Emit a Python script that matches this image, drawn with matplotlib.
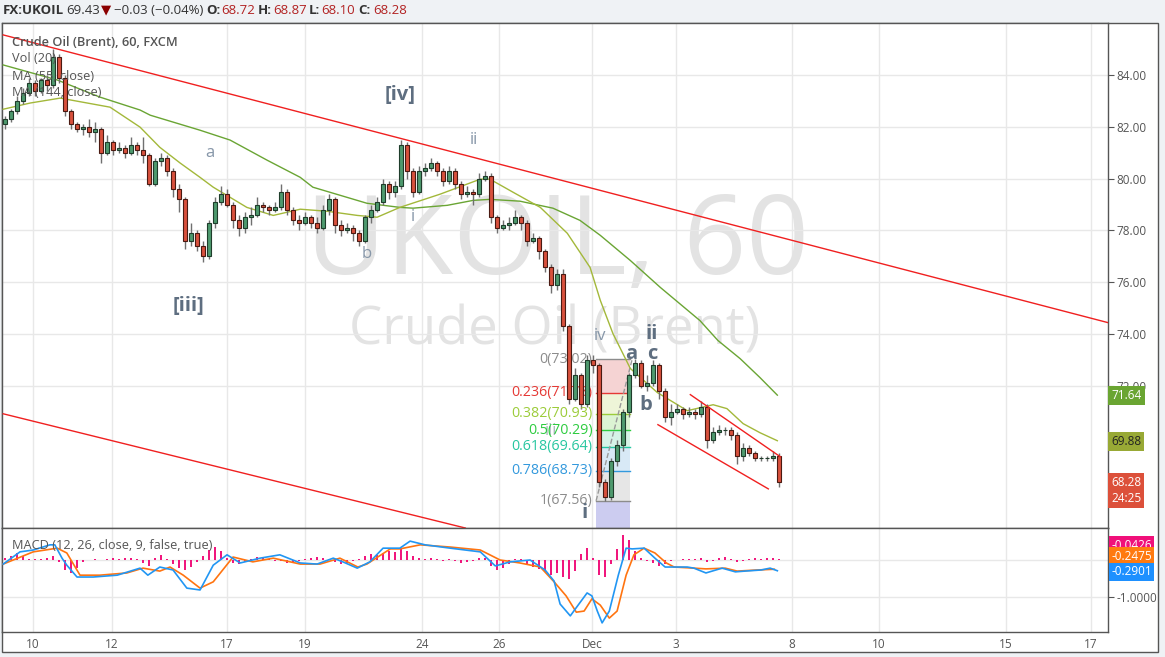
import numpy as np
import matplotlib
matplotlib.use('Agg')
import matplotlib.pyplot as plt
from matplotlib.patches import Rectangle
from matplotlib.transforms import blended_transform_factory

plt.rcParams['font.family'] = ['Open Sans', 'DejaVu Sans']

# ---- data (hourly UKOIL, one candle per ~2 bars) ----
first_open = 82.1
closes = [82.3, 82.6, 83.0, 83.3, 83.7, 83.4, 83.8, 83.6, 84.7, 83.9,
          82.6, 82.1, 81.9, 82.0, 81.8, 81.9, 81.0, 81.4, 81.1, 81.2,
          81.0, 81.3, 81.1, 80.9, 79.8, 80.7, 80.8, 80.3, 79.6, 79.2,
          77.6, 77.9, 77.4, 77.0, 78.3, 79.1, 79.4, 79.0, 78.4, 78.1,
          78.5, 78.6, 79.0, 78.9, 78.8, 78.9, 79.5, 78.8, 78.4, 78.3,
          78.5, 78.3, 78.1, 78.8, 79.2, 78.2, 78.0, 78.1, 77.9, 77.6,
          78.5, 78.8, 79.1, 79.8, 79.5, 79.7, 81.3, 80.3, 79.5, 80.3,
          80.4, 80.6, 80.3, 79.9, 80.3, 79.8, 79.4, 79.5, 79.4, 80.0,
          80.1, 78.5, 78.1, 78.2, 78.3, 78.5, 78.3, 77.6, 77.7, 77.2,
          76.6, 75.9, 76.3, 74.3, 71.5, 72.4, 71.3, 73.0, 72.8, 68.3,
          67.7, 69.1, 69.7, 71.0, 72.4, 72.9, 72.0, 72.1, 72.8, 71.8,
          70.8, 71.0, 71.1, 70.9, 71.0, 70.9, 71.2, 69.9, 70.2, 70.3,
          70.3, 70.1, 69.3, 69.6, 69.4, 69.2, 69.2, 69.2, 69.3, 68.28]
highs = [82.4, 82.7, 83.2, 83.5, 83.9, 83.8, 83.9, 84.0, 85.0, 84.8,
         84.0, 82.7, 82.2, 82.1, 82.3, 82.2, 82.0, 81.7, 81.5, 81.4,
         81.3, 81.6, 81.4, 81.6, 81.0, 80.8, 81.0, 80.9, 80.4, 79.8,
         79.3, 78.3, 78.0, 77.6, 78.4, 79.3, 79.7, 79.6, 79.1, 78.6,
         78.7, 78.9, 79.3, 79.1, 79.0, 79.1, 79.8, 79.6, 78.9, 78.6,
         78.7, 78.6, 78.5, 79.0, 79.4, 79.3, 78.4, 78.3, 78.2, 78.0,
         78.6, 79.0, 79.3, 80.0, 79.9, 79.9, 81.5, 81.4, 80.4, 80.5,
         80.6, 80.8, 80.7, 80.4, 80.5, 80.4, 79.9, 79.7, 79.6, 80.2,
         80.3, 80.2, 78.6, 78.4, 78.5, 78.8, 78.6, 78.4, 77.9, 77.8,
         77.3, 76.7, 76.5, 76.5, 74.4, 72.7, 72.5, 73.2, 73.2, 72.9,
         68.4, 69.2, 69.9, 71.1, 72.5, 73.02, 73.0, 72.4, 73.0, 72.9,
         71.9, 71.3, 71.3, 71.2, 71.2, 71.1, 71.4, 71.3, 70.4, 70.5,
         70.4, 70.4, 70.2, 69.8, 69.7, 69.5, 69.3, 69.3, 69.5, 69.4]
lows = [81.9, 82.2, 82.5, 82.9, 83.2, 83.2, 83.3, 83.4, 83.5, 83.7,
        82.4, 81.9, 81.8, 81.7, 81.6, 81.4, 80.6, 80.9, 80.9, 81.0,
        80.8, 80.9, 80.9, 80.6, 79.7, 79.7, 80.5, 80.1, 79.3, 78.7,
        77.3, 77.4, 77.2, 76.8, 76.9, 78.1, 79.0, 78.9, 78.1, 77.8,
        77.9, 78.2, 78.5, 78.7, 78.6, 78.7, 78.8, 78.6, 78.2, 78.0,
        78.2, 78.1, 77.9, 78.0, 78.6, 77.9, 77.8, 77.9, 77.6, 77.4,
        77.5, 78.3, 78.7, 79.0, 79.2, 79.3, 79.6, 80.0, 79.3, 79.4,
        80.1, 80.3, 80.1, 79.7, 79.8, 79.6, 79.2, 79.3, 79.0, 79.3,
        79.9, 78.3, 77.9, 78.0, 78.0, 78.2, 78.0, 77.4, 77.5, 76.9,
        76.4, 75.6, 75.7, 74.1, 71.3, 71.4, 71.1, 71.2, 72.5, 68.1,
        67.56, 67.6, 68.9, 69.5, 70.8, 72.3, 71.9, 71.8, 72.0, 71.5,
        70.6, 70.5, 70.9, 70.7, 70.8, 70.7, 70.8, 69.6, 69.8, 70.1,
        70.1, 69.9, 69.0, 69.1, 69.3, 69.1, 69.1, 69.1, 69.1, 68.1]

# moving averages (bar position, price)
ma55_bar = [-0.3, 4.2, 9.2, 17.5, 22.5, 25.8, 29.2, 32.5, 34.7, 40.3, 44.7, 49.2,
            53.7, 58.7, 62.0, 65.8, 72.5, 79.2, 80.8, 84.7, 89.2, 93.7, 97.5,
            99.2, 101.3, 104.2, 108.7, 113.7, 118.0, 120.3, 123.0, 125.8, 128.7]
ma55_val = [82.68, 82.92, 83.11, 82.76, 81.99, 81.21, 80.60, 80.05, 79.67, 78.89,
            78.58, 78.82, 78.74, 78.58, 78.51, 78.89, 79.40, 79.98, 79.98, 79.47,
            78.89, 77.89, 76.57, 75.30, 74.02, 72.67, 71.74, 71.04, 71.27, 71.12,
            70.54, 70.19, 69.88]
ma144_bar = [-0.3, 8.7, 15.8, 22.5, 24.2, 32.5, 37.5, 43.7, 49.2, 51.3, 55.8, 60.3,
             65.8, 68.0, 73.7, 78.0, 80.8, 85.8, 91.3, 95.8, 99.2, 104.2, 109.2,
             115.8, 118.8, 122.5, 125.8, 128.7]
ma144_val = [84.39, 83.81, 83.15, 82.65, 82.45, 81.87, 81.49, 80.71, 80.05, 79.67,
             79.36, 79.05, 78.89, 78.86, 78.97, 79.16, 79.20, 79.13, 78.86, 78.39,
             77.81, 76.84, 75.80, 74.52, 73.75, 73.05, 72.32, 71.64]

# MACD (12, 26, 9)
macd_bar = [-0.3, 2.5, 4.7, 7.5, 8.3, 9.5, 10.3, 12.0, 14.7, 18.7, 22.5, 23.8, 25.8,
            28.0, 30.3, 32.5, 34.7, 37.0, 39.2, 42.5, 45.8, 49.2, 52.0, 54.7, 56.3,
            58.7, 60.8, 63.0, 65.8, 67.5, 70.0, 74.2, 79.2, 81.7, 84.2, 87.5, 90.0,
            91.5, 92.5, 94.2, 95.5, 97.0, 97.8, 98.7, 99.5, 100.7, 102.2, 103.5,
            104.5, 106.5, 108.3, 110.0, 113.7, 114.8, 116.8, 119.5, 121.7, 123.3,
            126.0, 127.5, 128.7]
macd_val = [-0.11, 0.22, 0.27, 0.41, 0.41, 0.05, -0.14, -0.46, -0.46, -0.41, -0.22,
            -0.41, -0.19, -0.27, -0.76, -0.81, -0.14, 0.14, -0.08, 0.05, 0.14, -0.08,
            -0.11, 0.05, -0.05, -0.22, -0.05, 0.32, 0.32, 0.51, 0.41, 0.32, 0.22,
            -0.16, -0.05, 0.0, -0.27, -0.57, -1.19, -1.51, -1.22, -0.89, -0.97,
            -1.38, -1.70, -1.38, -0.41, 0.32, 0.30, 0.32, 0.05, -0.19, -0.19, -0.22,
            -0.35, -0.22, -0.32, -0.30, -0.27, -0.22, -0.29]
signal_bar = [-0.3, 4.7, 8.7, 10.3, 12.5, 15.8, 20.3, 23.0, 25.8, 27.5, 29.7, 32.5,
              34.7, 38.0, 41.3, 44.7, 49.2, 52.5, 55.8, 58.8, 60.3, 64.2, 65.8, 69.2,
              74.2, 79.2, 82.5, 85.8, 89.2, 91.5, 93.5, 95.2, 96.5, 97.8, 99.2, 100.7,
              102.0, 103.5, 104.8, 106.5, 108.3, 110.2, 111.5, 114.8, 116.8, 120.0,
              122.0, 125.3, 128.2]
signal_val = [-0.11, 0.22, 0.32, 0.19, -0.41, -0.41, -0.35, -0.22, -0.30, -0.19, -0.41,
              -0.76, -0.59, 0.08, -0.05, 0.05, -0.11, -0.11, 0.05, -0.19, -0.11, 0.30,
              0.30, 0.41, 0.35, 0.27, 0.0, -0.08, -0.19, -0.59, -0.97, -1.41, -1.38,
              -1.05, -1.22, -1.57, -1.38, -0.41, 0.14, 0.32, 0.19, -0.08, -0.19, -0.22,
              -0.24, -0.22, -0.30, -0.27, -0.25]
hist = [0.05, 0.12, 0.18, 0.10, 0.02, 0.04, 0.03, 0.06, 0.10, -0.05,
        -0.28, -0.35, -0.22, -0.05, 0.01, 0.02, 0.01, 0.03, 0.05, 0.04,
        0.05, 0.06, 0.04, -0.08, -0.15, 0.06, 0.13, 0.02, -0.12, -0.22,
        -0.27, -0.20, -0.06, 0.10, 0.28, 0.35, 0.25, 0.05, -0.08, -0.12,
        -0.06, 0.04, 0.08, 0.05, 0.02, -0.04, -0.02, -0.08, -0.06, -0.03,
        0.02, 0.06, 0.08, 0.05, 0.03, -0.06, -0.10, -0.08, -0.04, 0.03,
        0.10, 0.15, 0.14, 0.20, 0.25, 0.22, 0.30, 0.25, 0.12, 0.05,
        0.03, 0.06, 0.03, -0.04, 0.02, -0.03, -0.08, -0.06, -0.03, 0.05,
        0.06, -0.15, -0.28, -0.22, -0.10, 0.04, 0.02, -0.12, -0.18, -0.25,
        -0.32, -0.40, -0.35, -0.45, -0.50, -0.30, 0.15, 0.32, 0.05, -0.40,
        -0.45, -0.10, 0.30, 0.67, 0.55, 0.25, 0.05, -0.02, -0.08, -0.15,
        -0.12, -0.04, 0.00, 0.02, 0.04, 0.03, 0.05, -0.06, -0.04, 0.06,
        0.07, 0.04, -0.05, -0.03, 0.03, 0.05, 0.04, 0.05, 0.06, 0.02]

# trend lines: (bar0, price0, bar1, price1)
red_lines = [(-0.3, 85.55, 183.8, 74.44),
             (-0.3, 70.92, 76.7, 66.51),
             (114.2, 71.66, 129.2, 69.26),
             (108.8, 70.50, 127.2, 68.02)]

# fibonacci retracement
fib_ratio = ['0', '0.236', '0.382', '0.5', '0.618', '0.786', '1']
fib_price = [73.02, 71.73, 70.93, 70.29, 69.64, 68.73, 67.56]
fib_line_col = ['#8c8c8c', '#e53935', '#9ccc3a', '#2ecc40', '#26c6a0', '#3399dd', '#8c8c8c']
fib_fill_col = ['#f5d3d3', '#eef5d8', '#dcf3d3', '#d6f3e7', '#d8e9f6', '#e6e6e6']

wave_big = [('[iv]', 65.8, 83.23), ('[iii]', 30.5, 75.10), ('ii', 107.8, 74.02),
            ('a', 104.3, 73.21), ('c', 107.8, 73.21), ('b', 106.8, 71.27), ('i', 96.5, 67.09)]
wave_small = [('a', 34.2, 80.98), ('b', 60.3, 77.08), ('i', 68.0, 78.51),
              ('ii', 78.2, 81.49), ('iv', 99.2, 73.94)]

tick_pos = [4.67, 17.83, 37.0, 50.0, 69.5, 82.33, 97.83, 111.83, 131.17, 145.67, 166.83, 181.0]
tick_lab = ['10', '12', '17', '19', '24', '26', 'Dec', '3', '8', '10', '15', '17']

# ---- figure ----
W, H = 1165, 657
fig = plt.figure(figsize=(W / 100, H / 100), dpi=100, facecolor='#eff2f5')


def px_box(x0, y0, x1, y1):
    return [x0 / W, 1 - y1 / H, (x1 - x0) / W, (y1 - y0) / H]


fig.patches.append(Rectangle((2 / W, 5 / H), 1156 / W, 629 / H, transform=fig.transFigure,
                             facecolor='white', edgecolor='#555555', lw=1, zorder=-5))

ax = fig.add_axes(px_box(2, 23, 1108, 528))
mx = fig.add_axes(px_box(2, 528, 1108, 632), sharex=ax)
grid_c = '#e8e8e8'
for a in (ax, mx):
    a.set_facecolor('white')
    for s in a.spines.values():
        s.set_color('#555555')
        s.set_linewidth(1)
    for t in tick_pos:
        a.axvline(t, color=grid_c, lw=1, zorder=0)

ax.set_xlim(-0.5, 183.8)
ax.set_ylim(66.51, 86.01)
mx.set_ylim(-1.946, 0.865)

# watermark
ax.text(0.502, 0.56, 'UKOIL, 60', transform=ax.transAxes, ha='center', va='center',
        fontsize=79, color='#e3e3e3', zorder=0)
ax.text(0.50, 0.391, 'Crude Oil (Brent)', transform=ax.transAxes, ha='center', va='center',
        fontsize=38, color='#e3e3e3', zorder=0)

for p in range(72, 86, 2):
    ax.axhline(p, color=grid_c, lw=1, zorder=0)

# fib box
fx0, fx1 = 98.5, 104.2
for k in range(len(fib_fill_col)):
    ax.fill_between([fx0, fx1], fib_price[k + 1], fib_price[k], color=fib_fill_col[k], lw=0, zorder=1)
ax.fill_between([fx0, fx1], 66.0, fib_price[-1], color='#ccccf0', lw=0, zorder=1)
for r, p, c in zip(fib_ratio, fib_price, fib_line_col):
    ax.plot([fx0, fx1], [p, p], color=c, lw=1, zorder=2)
    ax.text(fx0 - 0.6, p, f'{r}({p:.2f})', color=c, fontsize=10.3, ha='right', va='center', zorder=5)
ax.plot([fx0, 104.5], [67.56, 73.02], color='#9a9a9a', lw=1, ls='--', zorder=2)

# moving averages
ax.plot(ma144_bar, ma144_val, color='#6aa534', lw=1, zorder=3)
ax.plot(ma55_bar, ma55_val, color='#a3b83a', lw=1, zorder=3)

# candles
x = np.arange(len(closes))
opens = np.array([first_open] + closes[:-1])
closes_a = np.array(closes)
up = closes_a >= opens
ax.vlines(x, lows, highs, color='#707070', lw=1, zorder=4)
ax.bar(x[up], (closes_a - opens)[up], bottom=opens[up], width=0.7,
       color='#4e9a6e', edgecolor='#1f3d2b', lw=0.8, zorder=5)
ax.bar(x[~up], (closes_a - opens)[~up], bottom=opens[~up], width=0.7,
       color='#d8513d', edgecolor='#4a1a12', lw=0.8, zorder=5)

# trend lines
for b0, p0, b1, p1 in red_lines:
    ax.plot([b0, b1], [p0, p1], color='#f02020', lw=1, zorder=6)

# wave labels
for t, b, p in wave_big:
    ax.text(b, p, t, color='#5e6e80', fontsize=14.5, fontweight='bold', ha='center', va='center', zorder=7)
for t, b, p in wave_small:
    ax.text(b, p, t, color='#8797a9', fontsize=12, ha='center', va='center', zorder=7)
ax.text(91.0, 70.27, 'iii', color='#b0b8c0', fontsize=12, ha='center', va='center', zorder=4)

# legend texts
ax.text(10 / 1106, 1 - 19 / 505, 'Crude Oil (Brent), 60, FXCM', transform=ax.transAxes,
        fontsize=9.2, fontweight='semibold', color='#555555', va='center', zorder=8)
for k, t in enumerate(['Vol (20)', 'MA (55, close)', 'MA (144, close)']):
    ax.text(10 / 1106, 1 - (36 + 17 * k) / 505, t, transform=ax.transAxes,
            fontsize=9.2, color='#555555', va='center', zorder=8)

# price scale
ax.yaxis.tick_right()
ax.set_yticks(range(72, 86, 2))
ax.set_yticklabels([f'{v:.2f}' for v in range(72, 86, 2)])
ax.tick_params(axis='y', direction='out', length=4, color='#555555', labelcolor='#555555',
               labelsize=8.5, pad=2)
ax.tick_params(axis='x', length=0, labelbottom=False)

tr = blended_transform_factory(ax.transAxes, ax.transData)
for val, y, fc, tc in [('71.64', 71.64, '#6aa532', 'white'), ('69.88', 69.86, '#98a935', '#222222'),
                       ('68.28', 68.28, '#dc503a', 'white'), ('24:25', 67.64, '#dc503a', 'white')]:
    ax.text(1.003, y, val, transform=tr, ha='left', va='center', fontsize=8.5, color=tc,
            bbox=dict(boxstyle='square,pad=0.25', fc=fc, ec='none'), clip_on=False, zorder=9)

# MACD panel
mx.axhline(0, color=grid_c, lw=1, zorder=0)
mx.axhline(-1, color=grid_c, lw=1, zorder=0)
mx.bar(x, hist, width=0.3, color='#f0177d', zorder=2)
mx.plot(signal_bar, signal_val, color='#ff7410', lw=1.2, zorder=3)
mx.plot(macd_bar, macd_val, color='#2196f3', lw=1.2, zorder=4)
mx.text(10 / 1106, 0.83, 'MACD (12, 26, close, 9, false, true)', transform=mx.transAxes,
        fontsize=9.2, color='#555555', va='center', zorder=8)
mx.yaxis.tick_right()
mx.set_yticks([-1])
mx.set_yticklabels(['-1.0000'])
mx.tick_params(axis='y', direction='out', length=4, color='#555555', labelcolor='#555555',
               labelsize=8.5, pad=2)
mtr = blended_transform_factory(mx.transAxes, mx.transData)
for val, y, fc in [('-0.0426', 0.405, '#f0107a'), ('-0.2475', 0.108, '#ff7a10'),
                   ('-0.2901', -0.324, '#1e90ff')]:
    mx.text(1.003, y, val, transform=mtr, ha='left', va='center', fontsize=8.5, color='white',
            bbox=dict(boxstyle='square,pad=0.2', fc=fc, ec='none'), clip_on=False, zorder=9)

mx.set_xticks(tick_pos)
mx.set_xticklabels(tick_lab)
mx.tick_params(axis='x', length=0, labelsize=8.5, labelcolor='#555555', pad=4)

# header line
hy = 1 - 10 / H
parts = [(3, 'FX:UKOIL', 'bold', '#333333'), (66, '69.43', 'normal', '#333333'),
         (101, '\u25bc', 'normal', '#8b0000'), (114, '\u22120.03 (\u22120.04%)', 'normal', '#333333'),
         (206, 'O:', 'bold', '#333333'), (221, '68.72', 'normal', '#b22222'),
         (258, 'H:', 'bold', '#333333'), (273, '68.87', 'normal', '#b22222'),
         (309, 'L:', 'bold', '#333333'), (321, '68.10', 'normal', '#b22222'),
         (358, 'C:', 'bold', '#333333'), (373, '68.28', 'normal', '#b22222')]
for px, t, w, c in parts:
    fig.text(px / W, hy, t, fontsize=9.5, fontweight=w, color=c, va='center', ha='left')

fig.savefig('out.png', dpi=100, facecolor=fig.get_facecolor())
